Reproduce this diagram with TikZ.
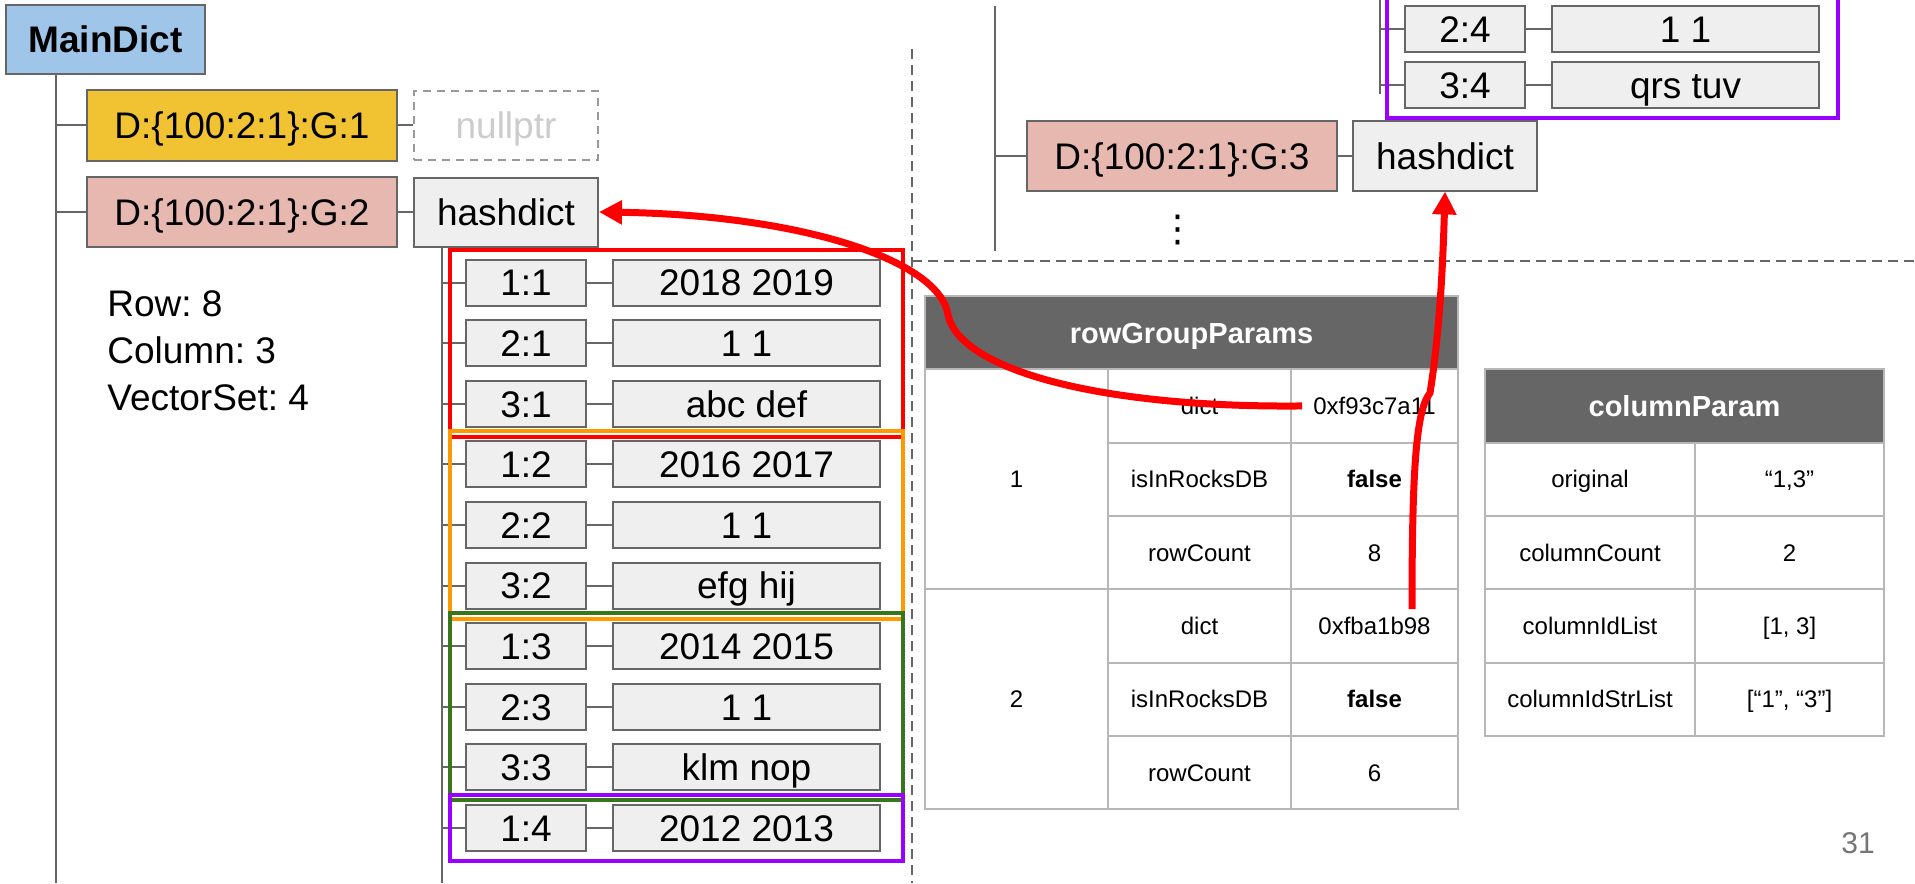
\documentclass[tikz,border=0pt]{standalone}
\usepackage{fontspec}
\setmainfont{Liberation Sans}
\newfontfamily\dotsfont{DejaVu Sans}
\usepackage{xcolor}
\usetikzlibrary{arrows.meta, positioning}
\frenchspacing
\definecolor{boxline}{HTML}{666666}
\definecolor{mainblue}{HTML}{9FC5E8}
\definecolor{gyellow}{HTML}{F1C232}
\definecolor{gpink}{HTML}{E6B8AF}
\definecolor{boxgray}{HTML}{EFEFEF}
\definecolor{nullline}{HTML}{999999}
\definecolor{nulltext}{HTML}{CCCCCC}
\definecolor{gridgray}{HTML}{B7B7B7}
\definecolor{headgray}{HTML}{666666}
\definecolor{pagegray}{HTML}{757575}
\definecolor{grpred}{HTML}{FF0000}
\definecolor{grporange}{HTML}{FF9900}
\definecolor{grpgreen}{HTML}{38761D}
\definecolor{grppurple}{HTML}{9900FF}
\tikzset{
    box/.style={rectangle, draw=boxline, line width=1pt, inner sep=0pt, text height=13.3pt, text depth=0pt, font=\fontsize{18.5}{22}\selectfont},
    gbox/.style={box, minimum width=155pt, minimum height=35pt},
    ptrbox/.style={box, fill=boxgray, minimum width=92pt, minimum height=34.5pt},
    keybox/.style={box, fill=boxgray, minimum width=60pt, minimum height=23pt},
    valbox/.style={box, fill=boxgray, minimum width=133.5pt, minimum height=23pt},
    treeline/.style={draw=boxline, line width=1pt},
    divider/.style={draw=boxline, line width=1pt, dash pattern=on 5pt off 3pt},
    grp/.style={line width=2pt},
    tcell/.style={rectangle, draw=gridgray, line width=1pt, fill=white, inner sep=0pt, minimum height=36.65pt, text height=8.6pt, text depth=0pt, font=\fontsize{12}{14}\selectfont},
    tablehead/.style={tcell, fill=headgray, text=white, text height=10.4pt, font=\fontsize{14.5}{17}\selectfont\bfseries},
    ptrarrow/.style={draw=grpred, line width=3.5pt, -{Triangle[length=11.5pt, width=11.5pt]}},
}
\begin{document}
\begin{tikzpicture}[x=0.5pt, y=-0.5pt]

    \useasboundingbox (0,0) rectangle (1915,883);
    \coordinate (bottom) at (0,883);

    % Nodes
    \node[box, fill=mainblue, minimum width=99.5pt, minimum height=34.5pt, font=\fontsize{18.5}{22}\selectfont\bfseries] (maindict) at (105.5,39.5) {MainDict};
    \node[gbox, fill=gyellow] (g1) at (242,125.5) {D:\{100:2:1\}:G:1};
    \node[ptrbox, fill=white, draw=nullline, dash pattern=on 4pt off 3pt, text=nulltext, right=7.5pt of g1] (null1) {nullptr};
    \node[gbox, fill=gpink] (g2) at (242,212) {D:\{100:2:1\}:G:2};
    \node[ptrbox, right=7.5pt of g2] (hd2) {hashdict};
    \node[anchor=north west, align=left, inner sep=0pt, font=\fontsize{18.5}{23.5}\selectfont] (stats) at (107,290) {Row: 8\\Column: 3\\VectorSet: 4};

    \foreach \i/\k/\v in {0/1:1/2018 2019, 1/2:1/1 1, 2/3:1/abc def, 3/1:2/2016 2017, 4/2:2/1 1,
                          5/3:2/efg hij, 6/1:3/2014 2015, 7/2:3/1 1, 8/3:3/klm nop, 9/1:4/2012 2013}
    {
        \node[keybox] (key\i) at (526,282.5+60.6*\i) {\k};
        \node[valbox, right=12.5pt of key\i] (val\i) {\v};
    }

    \node[gbox, fill=gpink] (g3) at (1182,156) {D:\{100:2:1\}:G:3};
    \node[ptrbox, right=7pt of g3] (hd3) {hashdict};
    \node[font=\dotsfont\fontsize{18.5}{22}\selectfont] (more) at (1178,230) {⋮};
    \node[keybox] (key24) at (1465,29) {2:4};
    \node[valbox, right=12.5pt of key24] (val24) {1 1};
    \node[keybox] (key34) at (1465,85.5) {3:4};
    \node[valbox, right=12.5pt of key34] (val34) {qrs tuv};

    % Tables
    \node[tablehead, minimum width=266.5pt] (rgp) at (1191.5,333) {rowGroupParams};
    \node[tcell, minimum width=91.5pt, minimum height=110pt] (rg1) at (1016.5,479.25) {1};
    \node[tcell, minimum width=91.5pt, minimum height=110pt] (rg2) at (1016.5,699.15) {2};
    \foreach \i/\k/\v in {0/dict/0xf93c7a11, 1/isInRocksDB/\textbf{false}, 2/rowCount/8,
                          3/dict/0xfba1b98, 4/isInRocksDB/\textbf{false}, 5/rowCount/6}
    {
        \node[tcell, minimum width=91.5pt] (rk\i) at (1199.5,405.95+73.3*\i) {\k};
        \node[tcell, minimum width=83.5pt] (rv\i) at (1374.5,405.95+73.3*\i) {\v};
    }

    \node[tablehead, minimum width=199.5pt] (cp) at (1684.5,405.95) {columnParam};
    \foreach \i/\k/\v in {1/original/{“1,3”}, 2/columnCount/2, 3/columnIdList/{[1, 3]}, 4/columnIdStrList/{[“1”, “3”]}}
    {
        \node[tcell, minimum width=105pt] (ck\i) at (1590,405.95+73.3*\i) {\k};
        \node[tcell, minimum width=94.5pt] (cv\i) at (1789.5,405.95+73.3*\i) {\v};
    }

    \node[text=pagegray, font=\fontsize{15}{18}\selectfont] (pagenum) at (1858,843) {31};

    % Tree lines
    \coordinate (trunkA) at ([xshift=-24.75pt]maindict.south);
    \draw[treeline] (trunkA) -- (trunkA |- bottom);
    \draw[treeline] (trunkA |- g1.west) -- (g1.west);
    \draw[treeline] (trunkA |- g2.west) -- (g2.west);
    \draw[treeline] (g1) -- (null1);
    \draw[treeline] (g2) -- (hd2);

    \coordinate (trunkB) at ([xshift=14.5pt]hd2.south west);
    \draw[treeline] (trunkB) -- (trunkB |- bottom);
    \foreach \i in {0,...,9}
    {
        \draw[treeline] (trunkB |- key\i.west) -- (key\i.west);
        \draw[treeline] (key\i) -- (val\i);
    }

    \coordinate (trunkCtop) at (995,6);
    \coordinate (trunkCbot) at (995,251);
    \draw[treeline] (trunkCtop) -- (trunkCbot);
    \draw[treeline] (trunkCtop |- g3.west) -- (g3.west);
    \draw[treeline] (g3) -- (hd3);

    \coordinate (trunkDtop) at (1380,0);
    \coordinate (trunkDbot) at (1380,94);
    \draw[treeline] (trunkDtop) -- (trunkDbot);
    \foreach \r in {24,34}
    {
        \draw[treeline] (trunkDtop |- key\r.west) -- (key\r.west);
        \draw[treeline] (key\r) -- (val\r);
    }

    % Dividers
    \coordinate (divtop) at (912,49);
    \coordinate (divmid) at (912,261);
    \coordinate (divright) at (1915,261);
    \draw[divider] (divtop) -- (divtop |- bottom);
    \draw[divider] (divmid) -- (divright);

    % Vector set groups
    \draw[grp, draw=grpred] ([xshift=-7.5pt, yshift=4.5pt]key0.north west) rectangle ([xshift=11pt, yshift=-4.5pt]val2.south east);
    \draw[grp, draw=grporange] ([xshift=-7.5pt, yshift=4.5pt]key3.north west) rectangle ([xshift=11pt, yshift=-4.5pt]val5.south east);
    \draw[grp, draw=grpgreen] ([xshift=-7.5pt, yshift=4.5pt]key6.north west) rectangle ([xshift=11pt, yshift=-4.5pt]val8.south east);
    \draw[grp, draw=grppurple] ([xshift=-7.5pt, yshift=4.5pt]key9.north west) rectangle ([xshift=11pt, yshift=-4.5pt]val9.south east);
    \draw[grp, draw=grppurple] ([xshift=-8.5pt, yshift=4.5pt]key24.north west) rectangle ([xshift=9pt, yshift=-4.5pt]val34.south east);

    % Arrows
    \draw[ptrarrow] ([xshift=6pt]rv0.west) .. controls (1100,408) and (960,370) .. (948,315)
        .. controls (940,260) and (800,215) .. (hd2.east);
    \draw[ptrarrow] ([xshift=18.75pt, yshift=-10.5pt]rv3.north) .. controls (1412,470) and (1416,410) .. (1430,393)
        .. controls (1440,330) and (1443,260) .. (hd3.south);

\end{tikzpicture}
\end{document}
